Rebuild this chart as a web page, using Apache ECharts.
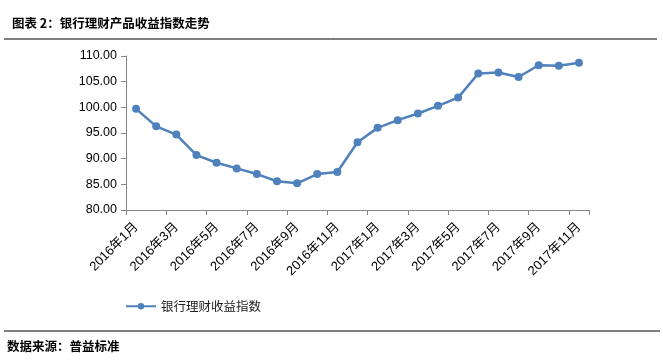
<!DOCTYPE html>
<html><head><meta charset="utf-8">
<script src="https://cdn.jsdelivr.net/npm/echarts@6/dist/echarts.min.js"></script>
<style>html,body{margin:0;padding:0;background:#fff}#c{width:663px;height:364px}</style>
</head><body><div id="c"></div>
<script>
var categories = ['2016年1月','2016年2月','2016年3月','2016年4月','2016年5月','2016年6月','2016年7月','2016年8月','2016年9月','2016年10月','2016年11月','2016年12月',
  '2017年1月','2017年2月','2017年3月','2017年4月','2017年5月','2017年6月','2017年7月','2017年8月','2017年9月','2017年10月','2017年11月'];
var indexValues = [99.7,96.3,94.7,90.7,89.2,88.1,87.0,85.6,85.2,87.0,87.4,93.2,
  96.0,97.5,98.8,100.3,101.9,106.6,106.8,105.9,108.2,108.1,108.7];
var seriesName = '银行理财收益指数';
var titleText = '图表 2：银行理财产品收益指数走势';
var sourceText = '数据来源：普益标准';

var chart = echarts.init(document.getElementById('c'));
var font = '"Liberation Sans", Arial, "Noto Sans CJK SC", sans-serif';
chart.setOption({
  animation: false,
  textStyle: {fontFamily: font},
  title: {text: titleText, left: 7, top: 12,
    textStyle: {fontSize: 12.5, fontWeight: 'bold', color: '#000', fontFamily: '"Noto Sans CJK SC", sans-serif'}},
  graphic: [
    {type: 'line', shape: {x1: 4, y1: 39, x2: 657, y2: 39}, style: {stroke: '#000', lineWidth: 1}},
    {type: 'line', shape: {x1: 4, y1: 331, x2: 660, y2: 331}, style: {stroke: '#000', lineWidth: 1}},
    {type: 'text', left: 7, top: 340, style: {text: sourceText, fontSize: 12.5, fontWeight: 'bold', fill: '#000', fontFamily: '"Noto Sans CJK SC", sans-serif'}}
  ],
  legend: {data: [seriesName], left: 120, top: 295, itemWidth: 30, itemHeight: 8, itemGap: 3,
    textStyle: {fontSize: 12.5, color: '#222', fontFamily: '"Noto Sans CJK SC", sans-serif'}},
  grid: {left: 126, right: 74, top: 56, bottom: 154, containLabel: false},
  xAxis: {type: 'category', data: categories, boundaryGap: true,
    axisLine: {lineStyle: {color: '#868686', width: 1}},
    axisTick: {show: true, interval: 1, length: 5, lineStyle: {color: '#868686'}},
    axisLabel: {interval: 1, rotate: 45, fontSize: 13, color: '#000', margin: 15, fontFamily: font}},
  yAxis: {type: 'value', min: 80, max: 110, interval: 5,
    axisLine: {show: true, lineStyle: {color: '#868686'}},
    axisTick: {show: true, length: 5, lineStyle: {color: '#868686'}},
    splitLine: {show: false},
    axisLabel: {fontSize: 12.5, color: '#000', margin: 9, formatter: function(v){return v.toFixed(2);}, fontFamily: font}},
  series: [{name: seriesName, type: 'line', data: indexValues, symbol: 'circle', symbolSize: 8,
    lineStyle: {color: '#4F81BD', width: 2.5}, itemStyle: {color: '#4F81BD'}}]
});
</script></body></html>
